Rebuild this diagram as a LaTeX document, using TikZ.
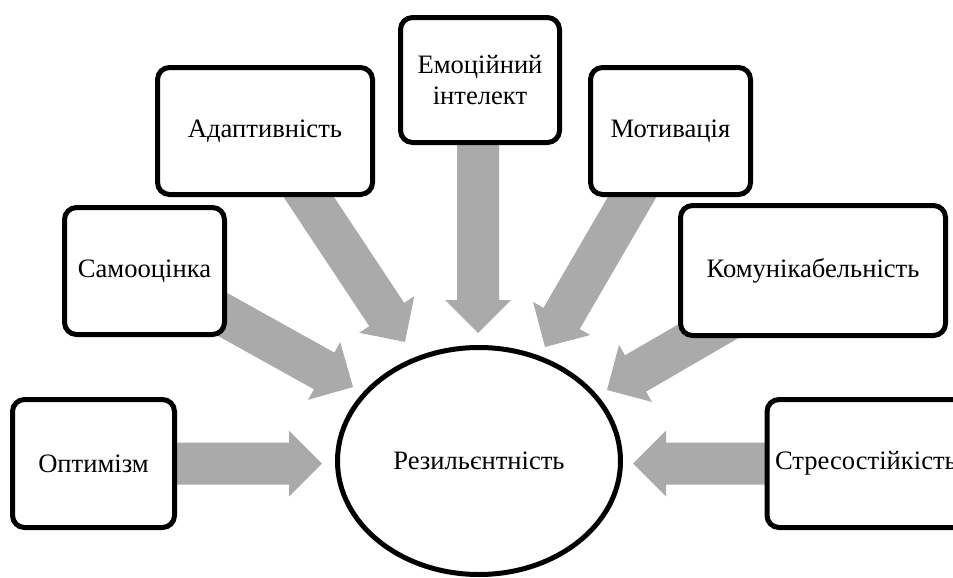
\documentclass[tikz,border=0pt]{standalone}
\usepackage{fontspec}
\setmainfont{Liberation Serif}
\usetikzlibrary{calc,shapes.geometric}
\pgfdeclarelayer{bg}
\pgfsetlayers{bg,main}
\definecolor{arrowgray}{RGB}{170,170,170}
\tikzset{
  box/.style={draw=black, line width=2.5pt, rounded corners=6pt, fill=white,
    inner sep=0pt, align=center, font=\fontsize{13.3}{15.5}\selectfont},
  centre/.style={draw=black, line width=2.5pt, ellipse, fill=white, inner sep=0pt,
    minimum width=141.5pt, minimum height=113.5pt, font=\fontsize{13.3}{15}\selectfont},
  fatarrow/.style={fill=arrowgray}
}
\newcommand\fatarrow[2]{%
  \path let \p1=($(#2)-(#1)$), \n1={atan2(\y1,\x1)}, \n2={veclen(\x1,\y1)} in
    \pgfextra{\xdef\faA{\n1}\xdef\faL{\n2}};
  \begin{scope}[shift={(#1)},rotate=\faA]
    \fill[fatarrow] (0pt,-10.5pt) -- ({\faL-16.5pt},-10.5pt) -- ({\faL-16.5pt},-16.5pt)
      -- (\faL,0pt) -- ({\faL-16.5pt},16.5pt) -- ({\faL-16.5pt},10.5pt) -- (0pt,10.5pt) -- cycle;
  \end{scope}}
\begin{document}
\begin{tikzpicture}[x=0.5pt,y=-0.5pt]
  \useasboundingbox (0,0) rectangle (953,578);
  \clip (0,0) rectangle (953,578);
  % centre
  \node[centre] (res) at (479,461) {Резильєнтність};
  % boxes
  \node[box, minimum width=81pt, minimum height=64pt] (opt) at (93.5,463.5) {Оптимізм};
  \node[box, minimum width=80pt, minimum height=63.5pt] (sam) at (144.5,271) {Самооцінка};
  \node[box, minimum width=107.5pt, minimum height=63.5pt] (adap) at (265,131) {Адаптивність};
  \node[box, minimum width=79.5pt, minimum height=62.5pt] (emo) at (480,80) {Емоційний\\інтелект};
  \node[box, minimum width=80pt, minimum height=63.5pt] (mot) at (670.5,131) {Мотивація};
  \node[box, minimum width=132.5pt, minimum height=65pt] (kom) at (813,270.5) {Комунікабельність};
  \node[box, anchor=west, text width=115pt, align=left, inner xsep=4pt,
        minimum height=64pt] (stres) at (764.5,463.5) {Стресостійкість};
  % arrow tips
  \coordinate (t1) at (322,463.5);
  \coordinate (t2) at (353,387);
  \coordinate (t3) at (405,342);
  \coordinate (t4) at (478,333);
  \coordinate (t5) at (545,347);
  \coordinate (t6) at (607,390);
  \coordinate (t7) at (633,463.5);
  \coordinate (s4) at (478,80);
  \begin{pgfonlayer}{bg}
    \fatarrow{opt}{t1}
    \fatarrow{sam}{t2}
    \fatarrow{adap}{t3}
    \fatarrow{s4}{t4}
    \fatarrow{mot}{t5}
    \fatarrow{kom}{t6}
    \fatarrow{stres}{t7}
  \end{pgfonlayer}
\end{tikzpicture}
\end{document}
